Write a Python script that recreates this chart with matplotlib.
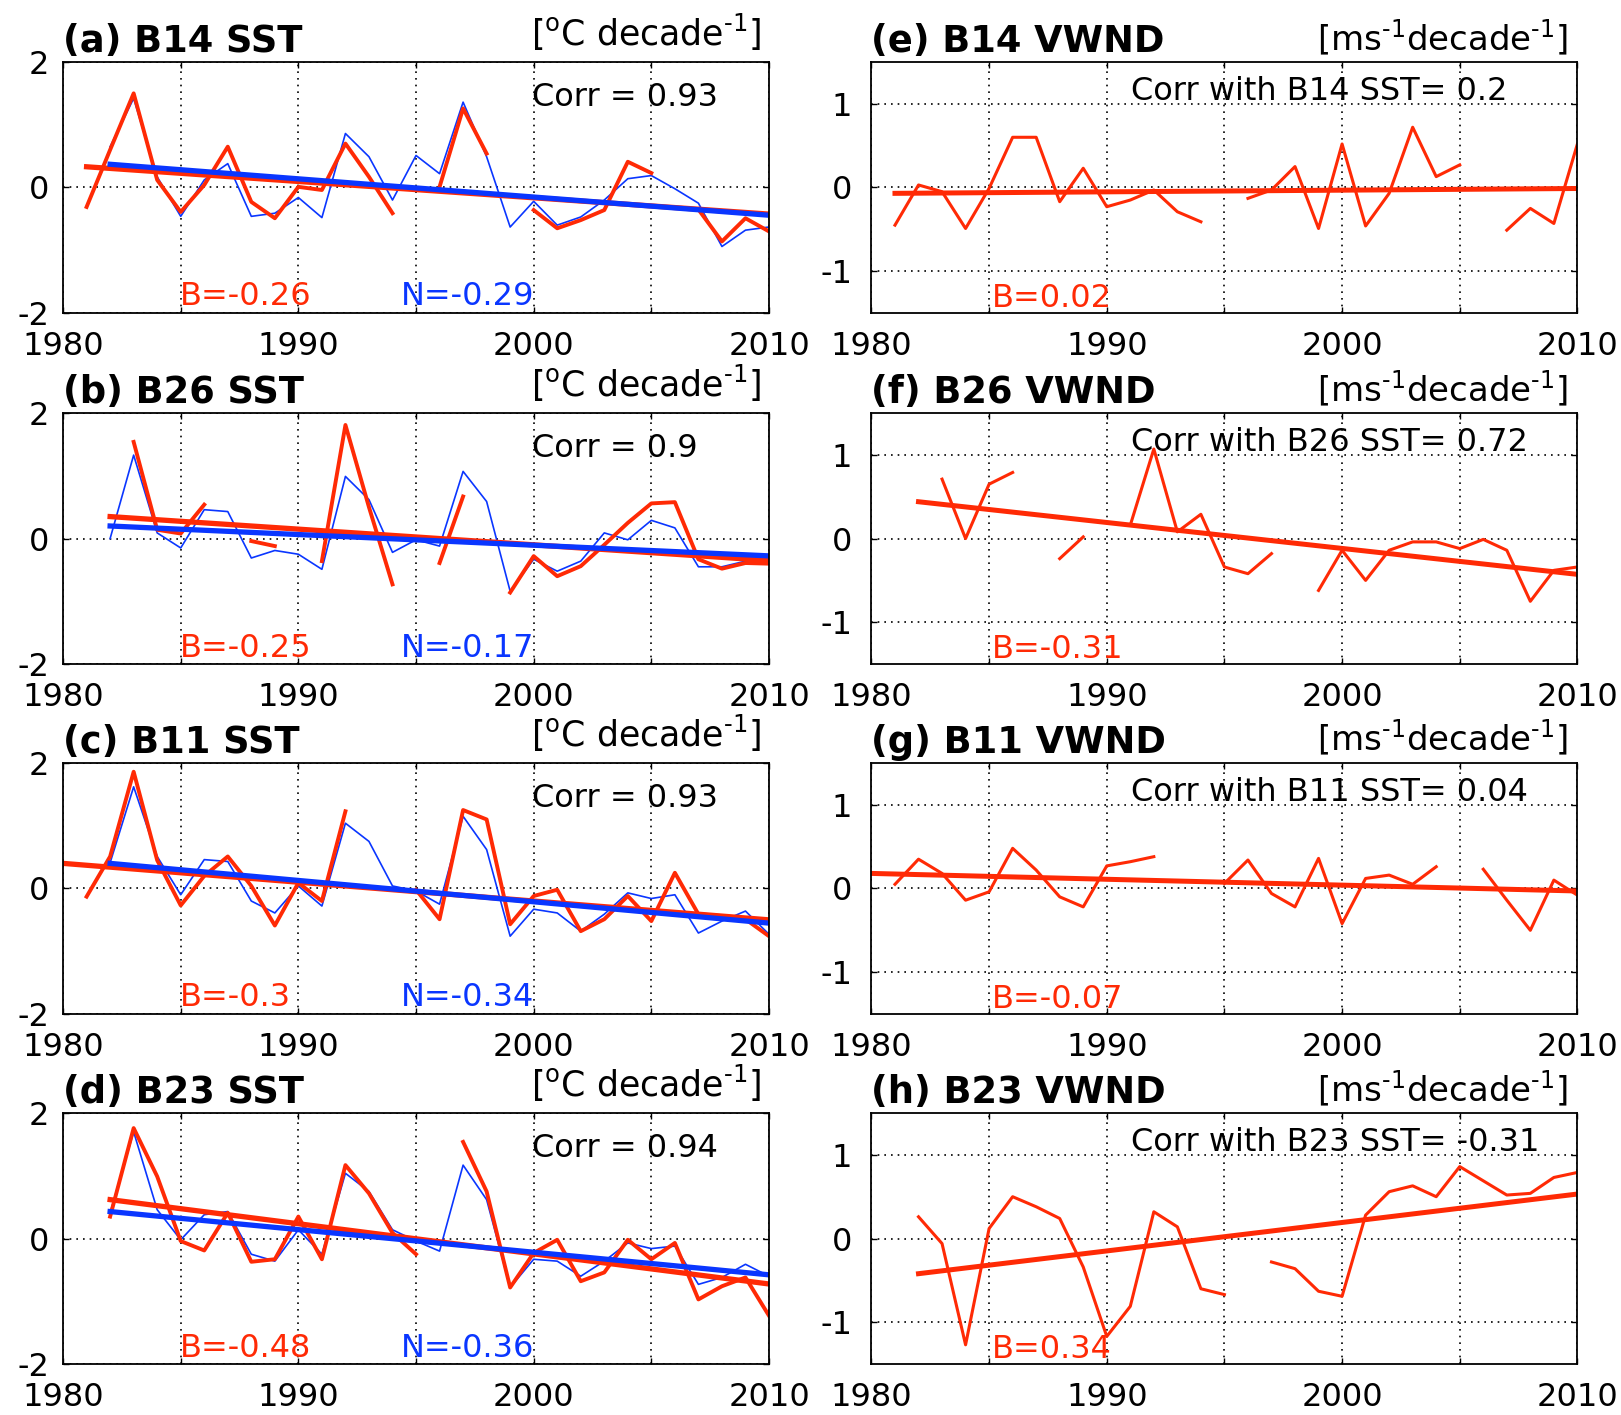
# %%
import numpy as np
from matplotlib import pyplot as plt

# %%
nan = np.nan
years = np.arange(1981, 2011)

# SST anomalies (B = red, N = blue), one value per year 1981-2010
b14_sst_B = [-0.31, 0.60, 1.50, 0.12, -0.39, 0.04, 0.65, -0.23, -0.49, 0.01,
             -0.04, 0.70, 0.17, -0.41, nan, 0.01, 1.26, 0.54, nan, -0.36,
             -0.65, -0.52, -0.36, 0.41, 0.23, nan, -0.35, -0.86, -0.49, -0.70]
b14_sst_N = [nan, 0.65, 1.42, 0.17, -0.46, 0.12, 0.38, -0.46, -0.41, -0.16,
             -0.48, 0.86, 0.49, -0.20, 0.51, 0.22, 1.36, 0.49, -0.63, -0.22,
             -0.60, -0.47, -0.20, 0.14, 0.19, -0.02, -0.25, -0.94, -0.68, -0.63]

b26_sst_B = [nan, nan, 1.54, 0.14, 0.08, 0.54, nan, -0.04, -0.12, nan,
             -0.36, 1.81, 0.50, -0.73, nan, -0.39, 0.67, nan, -0.86, -0.28,
             -0.60, -0.44, -0.10, 0.25, 0.56, 0.58, -0.33, -0.48, -0.39, -0.40]
b26_sst_N = [nan, 0.00, 1.33, 0.09, -0.15, 0.46, 0.43, -0.31, -0.19, -0.25,
             -0.49, 0.99, 0.62, -0.22, -0.02, -0.12, 1.07, 0.59, -0.84, -0.33,
             -0.52, -0.36, 0.09, -0.02, 0.29, 0.17, -0.45, -0.45, -0.36, -0.33]

b11_sst_B = [-0.13, 0.51, 1.86, 0.45, -0.27, 0.20, 0.51, 0.04, -0.59, 0.09,
             -0.20, 1.23, nan, nan, -0.02, -0.49, 1.25, 1.10, -0.57, -0.12,
             -0.02, -0.68, -0.49, -0.12, -0.52, 0.25, -0.41, -0.44, -0.49, -0.76]
b11_sst_N = [nan, 0.41, 1.62, 0.51, -0.10, 0.46, 0.43, -0.20, -0.39, 0.04,
             -0.28, 1.04, 0.75, 0.04, -0.04, -0.25, 1.15, 0.62, -0.76, -0.33,
             -0.39, -0.68, -0.41, -0.07, -0.16, -0.10, -0.71, -0.52, -0.36, -0.73]

b23_sst_B = [nan, 0.35, 1.76, 0.99, -0.04, -0.19, 0.41, -0.37, -0.33, 0.35,
             -0.33, 1.17, 0.72, 0.09, -0.25, nan, 1.54, 0.75, -0.78, -0.23,
             -0.02, -0.68, -0.54, -0.02, -0.33, -0.07, -0.97, -0.76, -0.62, -1.23]
b23_sst_N = [nan, 0.41, 1.70, 0.46, -0.02, 0.38, 0.43, -0.25, -0.36, 0.14,
             -0.25, 1.04, 0.75, 0.14, -0.04, -0.20, 1.17, 0.62, -0.78, -0.33,
             -0.36, -0.60, -0.36, -0.07, -0.16, -0.12, -0.73, -0.62, -0.41, -0.60]

# meridional wind anomalies (B)
b14_vwnd = [-0.45, 0.03, -0.05, -0.49, -0.01, 0.60, 0.60, -0.17, 0.23, -0.23,
            -0.15, -0.03, -0.29, -0.41, nan, -0.13, -0.03, 0.25, -0.49, 0.52,
            -0.46, -0.07, 0.72, 0.13, 0.27, nan, -0.51, -0.25, -0.43, 0.52]
b26_vwnd = [nan, nan, 0.71, 0.00, 0.65, 0.79, nan, -0.24, 0.02, nan,
            0.16, 1.07, 0.08, 0.29, -0.34, -0.42, -0.18, nan, -0.62, -0.14,
            -0.50, -0.14, -0.04, -0.04, -0.12, -0.01, -0.14, -0.75, -0.38, -0.34]
b11_vwnd = [0.05, 0.35, 0.18, -0.14, -0.04, 0.48, 0.22, -0.10, -0.22, 0.27,
            0.32, 0.38, nan, nan, 0.06, 0.34, -0.06, -0.22, 0.36, -0.42,
            0.12, 0.16, 0.05, 0.26, nan, 0.23, -0.14, -0.50, 0.10, -0.08]
b23_vwnd = [nan, 0.26, -0.06, -1.27, 0.12, 0.50, 0.38, 0.24, -0.34, -1.17,
            -0.81, 0.32, 0.14, -0.60, -0.67, nan, -0.28, -0.36, -0.63, -0.69,
            0.28, 0.56, 0.63, 0.50, 0.86, 0.69, 0.52, 0.54, 0.73, 0.79]

# labels and trends (per decade)
boxes = ["B14", "B26", "B11", "B23"]
sst_corr = ["0.93", "0.9", "0.93", "0.94"]
sst_slope_B = [-0.26, -0.25, -0.3, -0.48]
sst_slope_N = [-0.29, -0.17, -0.34, -0.36]
sst_trend_start_B = [(1981, 0.33), (1982, 0.35), (1980, 0.40), (1982, 0.62)]
sst_trend_start_N = [(1982, 0.37), (1982, 0.20), (1982, 0.40), (1982, 0.43)]
vwnd_corr = ["0.2", "0.72", "0.04", "-0.31"]
vwnd_slope = [0.02, -0.31, -0.07, 0.34]
vwnd_trend_start = [(1981, -0.07), (1982, 0.44), (1980, 0.18), (1982, -0.42)]

sst_B = [b14_sst_B, b26_sst_B, b11_sst_B, b23_sst_B]
sst_N = [b14_sst_N, b26_sst_N, b11_sst_N, b23_sst_N]
vwnd = [b14_vwnd, b26_vwnd, b11_vwnd, b23_vwnd]

# %%
RED = "#ff2a05"
BLUE = "#0a36ff"
FS = 23
plt.rcParams["font.family"] = "DejaVu Sans"
plt.rcParams["mathtext.fontset"] = "dejavusans"


def trend(start, slope):
    x0, y0 = start
    xs = np.array([x0, 2010])
    return xs, y0 + slope * (xs - x0) / 10


def style(ax, ylim, yticks, ypad):
    ax.set_xlim(1980, 2010)
    ax.set_ylim(*ylim)
    ax.set_xticks(np.arange(1980, 2011, 5))
    ax.set_xticklabels(["1980", "", "1990", "", "2000", "", "2010"])
    ax.set_yticks(yticks)
    ax.set_yticklabels([f"{t:g}" for t in yticks])
    ax.grid(True, color="black", ls=(0, (1, 3)), lw=1.2)
    ax.tick_params(direction="in", length=4, width=1, top=True, right=True,
                   labelsize=FS)
    ax.tick_params(axis="x", pad=13)
    ax.tick_params(axis="y", pad=ypad)
    for s in ax.spines.values():
        s.set_linewidth(1.3)


fig = plt.figure(figsize=(16.21, 14.15), dpi=100)
bottoms = [0.7788, 0.5307, 0.2834, 0.0360]
letters_l = "abcd"
letters_r = "efgh"
unit_sst = r"[$^{\rm o}$C decade$^{\text{-1}}$]"
unit_wnd = r"[ms$^{\text{-1}}$decade$^{\text{-1}}$]"

for i in range(4):
    # left: SST
    ax = fig.add_axes([0.0389, bottoms[i], 0.4355, 0.1774])
    style(ax, (-2, 2), [-2, 0, 2], 10)
    ax.plot(years, sst_N[i], color=BLUE, lw=1.2)
    ax.plot(years, sst_B[i], color=RED, lw=2.8)
    ax.plot(*trend(sst_trend_start_B[i], sst_slope_B[i]), color=RED, lw=3.8)
    ax.plot(*trend(sst_trend_start_N[i], sst_slope_N[i]), color=BLUE, lw=3.8)
    ax.text(0.0, 1.04, f"({letters_l[i]}) {boxes[i]} SST", transform=ax.transAxes,
            fontsize=26.5, fontweight="bold", va="baseline", ha="left")
    ax.text(0.99, 1.065, unit_sst, transform=ax.transAxes,
            fontsize=25, va="baseline", ha="right")
    ax.text(0.664, 0.825, f"Corr = {sst_corr[i]}", transform=ax.transAxes,
            fontsize=FS, va="baseline")
    ax.text(0.165, 0.03, f"B={sst_slope_B[i]:g}", transform=ax.transAxes,
            fontsize=23, color=RED, va="baseline")
    ax.text(0.478, 0.03, f"N={sst_slope_N[i]:g}", transform=ax.transAxes,
            fontsize=23, color=BLUE, va="baseline")

    # right: VWND
    ax = fig.add_axes([0.5376, bottoms[i], 0.4355, 0.1774])
    style(ax, (-1.5, 1.5), [-1, 0, 1], 14)
    ax.plot(years, vwnd[i], color=RED, lw=2.2)
    ax.plot(*trend(vwnd_trend_start[i], vwnd_slope[i]), color=RED, lw=3.6)
    ax.text(0.0, 1.04, f"({letters_r[i]}) {boxes[i]} VWND", transform=ax.transAxes,
            fontsize=26.5, fontweight="bold", va="baseline", ha="left")
    ax.text(0.987, 1.05, unit_wnd, transform=ax.transAxes,
            fontsize=24.5, va="baseline", ha="right")
    ax.text(0.368, 0.85, f"Corr with {boxes[i]} SST= {vwnd_corr[i]}",
            transform=ax.transAxes, fontsize=FS, va="baseline")
    ax.text(0.17, 0.024, f"B={vwnd_slope[i]:g}", transform=ax.transAxes,
            fontsize=23, color=RED, va="baseline")

plt.savefig("out.png", dpi=100)
